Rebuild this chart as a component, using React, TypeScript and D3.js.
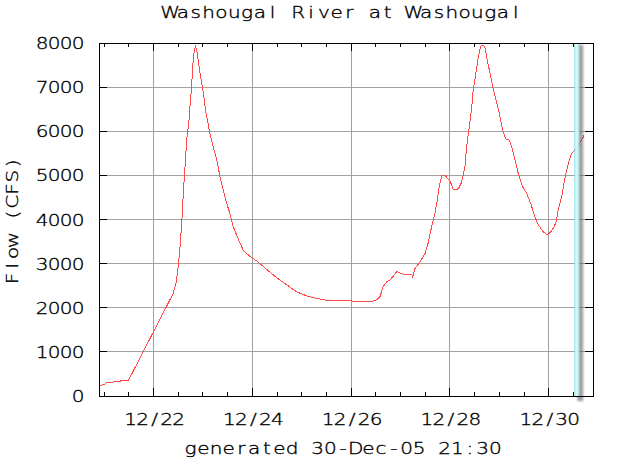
import React from "react";
import * as d3 from "d3";

const TITLE = "Washougal River at Washougal";
const Y_LABEL = "Flow (CFS)";
const X_LABEL = "generated 30-Dec-05 21:30";
const YEAR = "2005";
const DOMAIN_START = "12/20 21:30";
const DOMAIN_END = "12/30 21:30";
const MARKER_TIME = "12/30 13:36";
const Y_TICKS = [0, 1000, 2000, 3000, 4000, 5000, 6000, 7000, 8000];
const X_LABEL_DAYS = ["12/22", "12/24", "12/26", "12/28", "12/30"];

const times = [
  "12/20 21:30", "12/21 00:00", "12/21 01:24", "12/21 07:42", "12/21 08:00", "12/21 11:42",
  "12/22 09:30", "12/22 10:54", "12/22 12:00", "12/22 12:51", "12/22 13:48", "12/22 14:27",
  "12/22 15:18", "12/22 16:06", "12/22 17:06", "12/22 17:42", "12/22 18:30", "12/22 19:00",
  "12/22 19:39", "12/22 20:18", "12/22 21:00", "12/22 21:42", "12/22 22:36", "12/22 23:24",
  "12/23 00:12", "12/23 01:30", "12/23 03:24", "12/23 05:00", "12/23 06:42", "12/23 08:18",
  "12/23 09:54", "12/23 11:30", "12/23 13:06", "12/23 14:42", "12/23 16:42", "12/23 19:36",
  "12/23 22:54", "12/24 02:06", "12/24 07:00", "12/24 11:48", "12/24 16:42", "12/24 21:30",
  "12/25 02:24", "12/25 07:18", "12/25 12:06", "12/25 18:36", "12/26 02:42", "12/26 09:12",
  "12/26 12:24", "12/26 14:00", "12/26 15:36", "12/26 17:18", "12/26 18:54", "12/26 20:30",
  "12/26 22:06", "12/26 23:42", "12/27 01:18", "12/27 05:24", "12/27 05:54", "12/27 07:00",
  "12/27 09:24", "12/27 11:54", "12/27 13:30", "12/27 15:06", "12/27 16:42", "12/27 17:54",
  "12/27 18:48", "12/27 20:00", "12/27 21:36", "12/27 22:42", "12/28 00:00", "12/28 01:36",
  "12/28 03:18", "12/28 04:30", "12/28 05:42", "12/28 06:36", "12/28 07:18", "12/28 08:06",
  "12/28 09:24", "12/28 10:36", "12/28 11:18", "12/28 12:36", "12/28 13:48", "12/28 14:54",
  "12/28 16:12", "12/28 17:12", "12/28 18:06", "12/28 19:30", "12/28 20:48", "12/28 22:24",
  "12/29 00:00", "12/29 01:36", "12/29 03:12", "12/29 04:48", "12/29 06:00", "12/29 07:36",
  "12/29 09:12", "12/29 11:18", "12/29 13:18", "12/29 15:12", "12/29 17:18", "12/29 18:54",
  "12/29 21:18", "12/29 23:18", "12/30 00:36", "12/30 02:12", "12/30 03:30", "12/30 04:36",
  "12/30 06:18", "12/30 07:24", "12/30 08:42", "12/30 10:00", "12/30 11:06", "12/30 12:42",
  "12/30 14:24", "12/30 15:30", "12/30 17:06",
];

const flows = [
  227, 260, 310, 325, 345, 345,
  2320, 2550, 2930, 3380, 3990, 4590,
  5200, 5800, 6180, 6560, 7010, 7460,
  7770, 7930, 7840, 7610, 7310, 7090,
  6860, 6410, 5950, 5650, 5350, 4970,
  4670, 4370, 4140, 3840, 3610, 3300,
  3160, 3060, 2870, 2680, 2520, 2360,
  2270, 2210, 2170, 2160, 2150, 2130,
  2180, 2250, 2480, 2590, 2630, 2720,
  2820, 2790, 2760, 2750, 2700, 2890,
  3040, 3230, 3480, 3840, 4140, 4450,
  4760, 4990, 5010, 4930, 4880, 4680,
  4670, 4730, 4850, 5040, 5200, 5650,
  6100, 6560, 6930, 7310, 7690, 7930,
  7950, 7880, 7610, 7310, 7010, 6710,
  6410, 6030, 5820, 5800, 5650, 5350,
  5040, 4740, 4590, 4370, 4060, 3880,
  3720, 3650, 3700, 3800, 3930, 4220,
  4520, 4820, 5120, 5350, 5500, 5580,
  5650, 5760, 5900,
];

const W = 629;
const H = 463;
const M = { left: 99, right: 593, top: 43, bottom: 396 };
const FONT = "'DejaVu Sans', sans-serif";
const SX = 1.25;

const parse = d3.utcParse("%Y/%m/%d %H:%M");
const toDate = (s: string) => parse(`${YEAR}/${s}`) as Date;

// monospaced-looking text: every character centred in its own fixed-width cell, glyphs widened
function MonoText(props: {
  text: string;
  x: number;
  y: number;
  adv: number;
  anchor: "start" | "middle" | "end";
  rotate?: boolean;
}) {
  const { text, x, y, adv, anchor, rotate } = props;
  const total = text.length * adv;
  const start = anchor === "start" ? 0 : anchor === "middle" ? -total / 2 : -total;
  const xs = text.split("").map((_, i) => (start + adv * (i + 0.5)) / SX);
  const transform = rotate
    ? `translate(${x},${y}) rotate(-90) scale(${SX},1)`
    : `translate(${x},${y}) scale(${SX},1)`;
  return (
    <text transform={transform} textAnchor="middle" x={xs.join(" ")} y={0}>
      {text}
    </text>
  );
}

export default function App() {
  const x = d3
    .scaleUtc()
    .domain([toDate(DOMAIN_START), toDate(DOMAIN_END)])
    .range([M.left, M.right]);
  const y = d3.scaleLinear().domain([0, 8000]).range([M.bottom, M.top]);

  const data = times.map((t, i) => ({ t: toDate(t), v: flows[i] }));
  const line = d3
    .line<{ t: Date; v: number }>()
    .x((d) => x(d.t))
    .y((d) => y(d.v));

  const halfDays = d3.utcHour.every(12)!.range(x.domain()[0], d3.utcMinute.offset(x.domain()[1], 1));
  const majorDays = X_LABEL_DAYS.map((d) => toDate(`${d} 00:00`));
  const isMajor = (d: Date) => majorDays.some((m) => +m === +d);

  const mx = x(toDate(MARKER_TIME));
  const grid = "#a0a0a0";
  const major = 8;
  const minor = 4;

  return (
    <svg width={W} height={H} style={{ display: "block", position: "absolute", left: 0, top: 0 }}>
      <defs>
        <linearGradient id="cyan" x1="0" x2="1" y1="0" y2="0">
          <stop offset="0" stopColor="#7fd6de" />
          <stop offset="0.35" stopColor="#d6ffff" />
          <stop offset="0.7" stopColor="#c8f8fb" />
          <stop offset="1" stopColor="#86d0d6" />
        </linearGradient>
        <filter id="blur" x="-2" y="-0.1" width="5" height="1.2">
          <feGaussianBlur stdDeviation="1.2" />
        </filter>
      </defs>
      <rect x={0} y={0} width={W} height={H} fill="#fff" />

      <g shapeRendering="crispEdges" stroke={grid} strokeWidth={1}>
        {Y_TICKS.filter((v) => v > 0 && v < 8000).map((v) => (
          <line key={v} x1={M.left} x2={M.right} y1={y(v)} y2={y(v)} />
        ))}
        {majorDays.map((d) => (
          <line key={+d} x1={x(d)} x2={x(d)} y1={M.top} y2={M.bottom} />
        ))}
      </g>

      <g shapeRendering="crispEdges" stroke="#000" strokeWidth={1}>
        {Y_TICKS.map((v) => (
          <g key={v}>
            <line x1={M.left} x2={M.left + major} y1={y(v)} y2={y(v)} />
            <line x1={M.right} x2={M.right - major} y1={y(v)} y2={y(v)} />
          </g>
        ))}
        {halfDays.map((d) => {
          const len = isMajor(d) ? major : minor;
          return (
            <g key={+d}>
              <line x1={x(d)} x2={x(d)} y1={M.bottom} y2={M.bottom - len} />
              <line x1={x(d)} x2={x(d)} y1={M.top} y2={M.top + len} />
            </g>
          );
        })}
      </g>

      <path d={line(data) || ""} fill="none" stroke="#ff4a4a" strokeWidth={1} shapeRendering="crispEdges" />

      <rect x={mx + 0.5} y={M.top + 2} width={6} height={M.bottom - M.top + 3} fill="#555" opacity={0.55} filter="url(#blur)" />
      <rect x={mx - 2.5} y={M.top} width={5.5} height={M.bottom - M.top} fill="url(#cyan)" opacity={0.85} />

      <rect
        x={M.left}
        y={M.top}
        width={M.right - M.left}
        height={M.bottom - M.top}
        fill="none"
        stroke="#000"
        strokeWidth={1}
        shapeRendering="crispEdges"
      />

      <g fontFamily={FONT} fontSize={16} fontWeight={200} fill="#000" stroke="#000" strokeWidth={0.35}>
        <MonoText text={TITLE} x={343} y={17.5} adv={12.8} anchor="middle" />
        {Y_TICKS.map((v) => (
          <MonoText key={v} text={String(v)} x={84} y={y(v) + 6} adv={12} anchor="end" />
        ))}
        {X_LABEL_DAYS.map((s, i) => (
          <MonoText key={s} text={s} x={x(majorDays[i]) + 1} y={425} adv={12} anchor="middle" />
        ))}
        <MonoText text={X_LABEL} x={343} y={454} adv={12.7} anchor="middle" />
        <MonoText text={Y_LABEL} x={18} y={221} adv={12.8} anchor="middle" rotate />
      </g>
    </svg>
  );
}
